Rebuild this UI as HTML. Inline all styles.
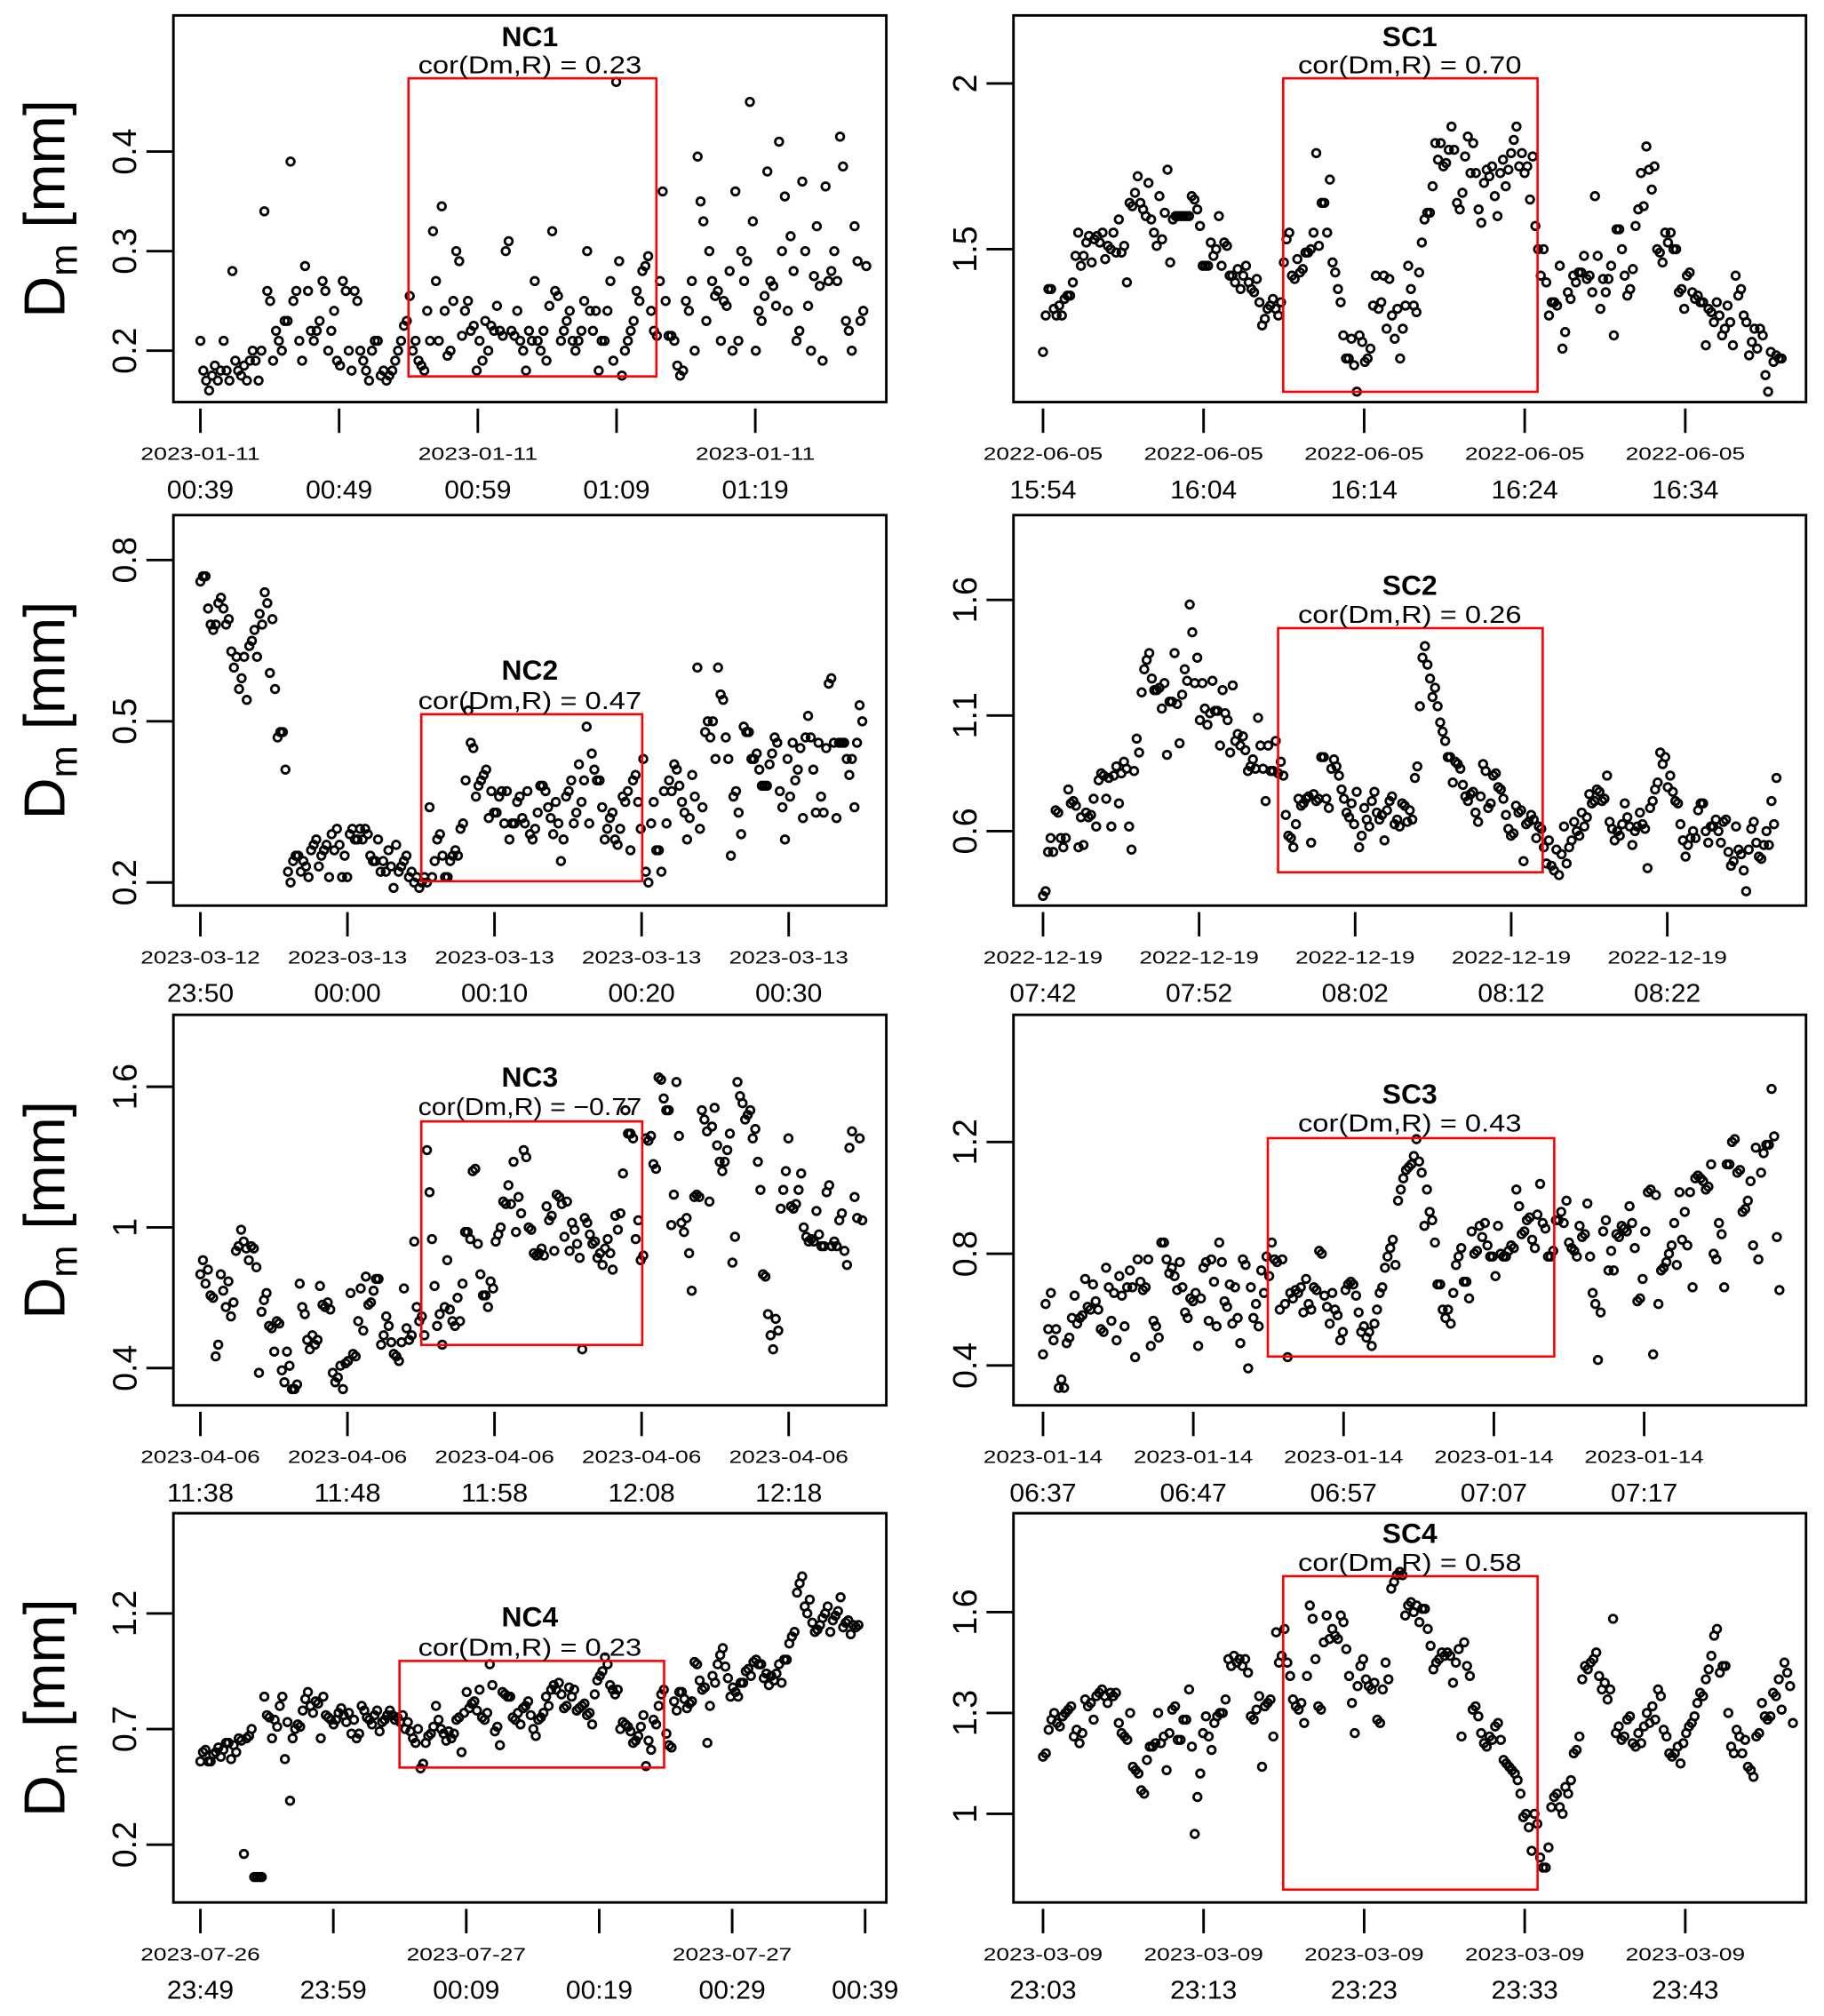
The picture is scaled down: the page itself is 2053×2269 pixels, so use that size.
<!DOCTYPE html>
<html><head><meta charset="utf-8">
<style>
html,body{margin:0;padding:0;background:#fff;}
svg{display:block;font-family:"Liberation Sans",Arial,sans-serif;}
</style></head>
<body>
<svg id="fig" width="2053" height="2269" viewBox="0 0 1420 1569.4" preserveAspectRatio="none" xmlns="http://www.w3.org/2000/svg">
<rect x="0" y="0" width="1420" height="1570" fill="#fff"/>
</svg>
<script>
// ---- data (Dm values in mm) ----
const panelNames = ["NC1","SC1","NC2","SC2","NC3","SC3","NC4","SC4"];
const corValues = ["0.23","0.70","0.47","0.26","\u22120.77","0.43","0.23","0.58"];
const spanMinutes = [48,46,45,47,45,49,49.5,46.7];
const dateLabels = ["2023-01-11","2022-06-05","2023-03-12","2022-12-19","2023-04-06","2023-01-14","2023-07-26","2023-03-09"];
const dateLabels2 = ["2023-01-11","2022-06-05","2023-03-13","2022-12-19","2023-04-06","2023-01-14","2023-07-27","2023-03-09"];
const timeLabelsNC1 = ["00:39","00:49","00:59","01:09","01:19"];
const timeLabelsSC1 = ["15:54","16:04","16:14","16:24","16:34"];
const timeLabelsNC2 = ["23:50","00:00","00:10","00:20","00:30"];
const timeLabelsSC2 = ["07:42","07:52","08:02","08:12","08:22"];
const timeLabelsNC3 = ["11:38","11:48","11:58","12:08","12:18"];
const timeLabelsSC3 = ["06:37","06:47","06:57","07:07","07:17"];
const timeLabelsNC4 = ["23:49","23:59","00:09","00:19","00:29","00:39"];
const timeLabelsSC4 = ["23:03","23:13","23:23","23:33","23:43"];
const yTicksNC1 = [0.2,0.3,0.4];
const yTicksSC1 = [1.5,2];
const yTicksNC2 = [0.2,0.5,0.8];
const yTicksSC2 = [0.6,1.1,1.6];
const yTicksNC3 = [0.4,1,1.6];
const yTicksSC3 = [0.4,0.8,1.2];
const yTicksNC4 = [0.2,0.7,1.2];
const yTicksSC4 = [1,1.3,1.6];

const dmNC1 = [0.21,0.18,0.17,0.16,0.175,0.185,0.17,0.18,0.21,0.18,0.17,0.28,0.19,0.18,0.175,0.185,0.17,0.19,0.2,0.19,0.17,0.2,0.34,0.26,0.25,0.19,0.22,0.21,0.2,0.23,0.23,0.39,0.25,0.26,0.21,0.19,0.285,0.26,0.22,0.21,0.22,0.23,0.27,0.26,0.2,0.22,0.24,0.19,0.185,0.27,0.26,0.2,0.18,0.26,0.25,0.2,0.19,0.18,0.17,0.2,0.21,0.21,0.175,0.18,0.17,0.175,0.18,0.19,0.2,0.21,0.225,0.23,0.255,0.2,0.21,0.19,0.185,0.18,0.24,0.21,0.32,0.27,0.21,0.345,0.24,0.195,0.2,0.25,0.3,0.29,0.215,0.24,0.25,0.22,0.225,0.18,0.21,0.19,0.23,0.2,0.225,0.22,0.245,0.22,0.215,0.3,0.31,0.22,0.215,0.24,0.21,0.2,0.18,0.22,0.21,0.27,0.21,0.2,0.22,0.19,0.245,0.32,0.26,0.255,0.21,0.22,0.23,0.24,0.21,0.2,0.21,0.22,0.25,0.3,0.24,0.22,0.24,0.18,0.21,0.21,0.24,0.27,0.19,0.47,0.29,0.175,0.2,0.21,0.22,0.23,0.26,0.25,0.28,0.285,0.295,0.24,0.22,0.215,0.27,0.36,0.25,0.215,0.215,0.21,0.185,0.175,0.18,0.25,0.24,0.27,0.2,0.395,0.35,0.33,0.23,0.3,0.27,0.255,0.26,0.21,0.25,0.245,0.28,0.2,0.36,0.21,0.3,0.27,0.29,0.45,0.33,0.2,0.24,0.23,0.255,0.38,0.27,0.265,0.245,0.41,0.3,0.355,0.24,0.315,0.28,0.21,0.22,0.37,0.3,0.245,0.2,0.275,0.325,0.265,0.19,0.365,0.27,0.28,0.3,0.27,0.415,0.385,0.23,0.22,0.2,0.325,0.29,0.23,0.24,0.285];
const dmSC1 = [1.19,1.3,1.38,1.38,1.32,1.3,1.33,1.3,1.35,1.36,1.36,1.4,1.48,1.55,1.45,1.48,1.52,1.54,1.46,1.53,1.54,1.52,1.55,1.47,1.51,1.5,1.55,1.49,1.59,1.49,1.51,1.4,1.64,1.63,1.67,1.72,1.64,1.62,1.6,1.7,1.59,1.55,1.51,1.66,1.53,1.61,1.74,1.46,1.59,1.6,1.6,1.6,1.6,1.6,1.6,1.66,1.65,1.62,1.57,1.45,1.45,1.45,1.52,1.48,1.5,1.6,1.45,1.52,1.51,1.42,1.42,1.4,1.44,1.38,1.42,1.45,1.4,1.38,1.37,1.41,1.34,1.27,1.29,1.32,1.33,1.35,1.32,1.3,1.34,1.46,1.53,1.55,1.42,1.41,1.47,1.43,1.44,1.49,1.49,1.5,1.55,1.79,1.51,1.64,1.64,1.55,1.71,1.46,1.43,1.38,1.34,1.24,1.17,1.17,1.23,1.15,1.07,1.24,1.22,1.16,1.17,1.2,1.33,1.42,1.32,1.34,1.42,1.26,1.41,1.3,1.23,1.32,1.17,1.26,1.33,1.45,1.38,1.33,1.31,1.43,1.52,1.59,1.61,1.61,1.69,1.82,1.77,1.82,1.75,1.76,1.8,1.87,1.8,1.64,1.62,1.67,1.78,1.84,1.73,1.82,1.73,1.62,1.58,1.7,1.74,1.72,1.75,1.66,1.6,1.73,1.77,1.69,1.74,1.79,1.83,1.87,1.75,1.79,1.73,1.75,1.65,1.78,1.57,1.5,1.42,1.5,1.4,1.3,1.34,1.34,1.33,1.45,1.2,1.25,1.37,1.35,1.42,1.4,1.43,1.43,1.48,1.41,1.42,1.37,1.66,1.48,1.32,1.41,1.37,1.41,1.45,1.24,1.56,1.56,1.5,1.42,1.36,1.38,1.44,1.57,1.62,1.73,1.63,1.81,1.74,1.68,1.75,1.5,1.49,1.46,1.55,1.52,1.55,1.5,1.5,1.37,1.38,1.32,1.42,1.43,1.37,1.35,1.36,1.34,1.34,1.21,1.32,1.31,1.28,1.34,1.3,1.24,1.26,1.33,1.28,1.21,1.42,1.36,1.38,1.3,1.28,1.18,1.22,1.26,1.2,1.26,1.24,1.12,1.07,1.19,1.16,1.18,1.17,1.17];
const dmNC2 = [0.76,0.77,0.77,0.71,0.68,0.67,0.68,0.72,0.73,0.71,0.68,0.69,0.63,0.6,0.62,0.56,0.58,0.62,0.54,0.64,0.65,0.67,0.62,0.7,0.68,0.74,0.72,0.59,0.69,0.56,0.47,0.48,0.48,0.41,0.22,0.2,0.24,0.25,0.25,0.22,0.24,0.23,0.21,0.26,0.27,0.28,0.23,0.25,0.26,0.27,0.21,0.29,0.26,0.3,0.27,0.21,0.25,0.21,0.29,0.3,0.28,0.28,0.3,0.28,0.3,0.29,0.25,0.24,0.24,0.28,0.22,0.24,0.22,0.26,0.23,0.19,0.27,0.22,0.23,0.24,0.25,0.21,0.22,0.2,0.21,0.19,0.2,0.21,0.2,0.34,0.21,0.24,0.28,0.29,0.25,0.21,0.21,0.24,0.25,0.26,0.25,0.3,0.31,0.39,0.52,0.46,0.45,0.36,0.38,0.39,0.4,0.41,0.32,0.37,0.33,0.33,0.36,0.37,0.31,0.37,0.28,0.31,0.31,0.35,0.36,0.32,0.31,0.37,0.29,0.28,0.3,0.33,0.38,0.38,0.37,0.34,0.32,0.29,0.35,0.31,0.24,0.28,0.36,0.37,0.39,0.31,0.33,0.42,0.35,0.39,0.49,0.31,0.44,0.41,0.39,0.39,0.34,0.28,0.3,0.32,0.33,0.28,0.27,0.3,0.36,0.35,0.37,0.26,0.39,0.4,0.35,0.3,0.43,0.22,0.2,0.31,0.35,0.26,0.26,0.22,0.37,0.31,0.39,0.37,0.42,0.41,0.38,0.35,0.33,0.28,0.32,0.4,0.36,0.6,0.3,0.34,0.48,0.5,0.47,0.5,0.43,0.6,0.55,0.54,0.47,0.43,0.25,0.36,0.37,0.33,0.29,0.49,0.48,0.48,0.43,0.43,0.44,0.41,0.38,0.38,0.38,0.42,0.44,0.47,0.46,0.37,0.34,0.28,0.43,0.36,0.46,0.39,0.41,0.45,0.32,0.47,0.51,0.47,0.41,0.33,0.46,0.36,0.33,0.45,0.57,0.58,0.46,0.32,0.46,0.46,0.46,0.43,0.4,0.43,0.34,0.46,0.53,0.5];
const dmSC2 = [0.32,0.34,0.51,0.57,0.51,0.69,0.68,0.57,0.53,0.57,0.78,0.72,0.73,0.71,0.53,0.66,0.54,0.68,0.66,0.67,0.74,0.62,0.82,0.85,0.84,0.74,0.83,0.62,0.84,0.88,0.72,0.85,0.9,0.87,0.62,0.52,0.86,1.0,0.94,1.2,1.3,1.34,1.37,1.26,1.21,1.21,1.22,1.13,1.24,0.93,1.16,1.16,1.37,1.15,0.98,1.19,1.3,1.25,1.58,1.46,1.24,1.35,1.08,1.24,1.13,1.06,1.11,1.25,1.12,1.12,0.97,1.21,1.11,1.08,0.94,1.23,0.99,1.02,0.97,1.01,0.95,0.86,0.88,0.91,0.87,1.09,0.97,0.87,0.73,0.97,0.86,0.86,0.99,0.85,0.9,0.84,0.67,0.58,0.57,0.53,0.63,0.74,0.71,0.72,0.74,0.75,0.55,0.76,0.73,0.74,0.92,0.92,0.74,0.7,0.87,0.91,0.88,0.84,0.78,0.74,0.68,0.66,0.72,0.63,0.77,0.53,0.58,0.7,0.65,0.62,0.73,0.77,0.68,0.65,0.67,0.56,0.69,0.73,0.75,0.63,0.65,0.62,0.72,0.71,0.64,0.69,0.65,0.83,0.88,1.14,1.35,1.4,1.32,1.26,1.18,1.22,1.14,1.07,1.03,0.99,0.92,0.92,0.81,0.9,0.89,0.87,0.8,0.75,0.73,0.76,0.77,0.68,0.64,0.75,0.89,0.86,0.7,0.72,0.84,0.85,0.79,0.78,0.74,0.67,0.61,0.58,0.59,0.71,0.68,0.69,0.47,0.63,0.64,0.67,0.65,0.57,0.62,0.61,0.53,0.46,0.56,0.45,0.43,0.52,0.41,0.5,0.62,0.46,0.53,0.56,0.64,0.6,0.58,0.68,0.62,0.66,0.76,0.72,0.73,0.78,0.77,0.73,0.74,0.84,0.64,0.61,0.56,0.6,0.58,0.63,0.72,0.66,0.62,0.54,0.6,0.62,0.68,0.63,0.61,0.44,0.7,0.73,0.78,0.81,0.94,0.89,0.92,0.79,0.84,0.77,0.73,0.72,0.63,0.56,0.49,0.54,0.57,0.6,0.57,0.69,0.72,0.72,0.6,0.55,0.62,0.62,0.65,0.6,0.55,0.64,0.65,0.51,0.45,0.47,0.62,0.52,0.5,0.43,0.34,0.52,0.61,0.64,0.55,0.49,0.48,0.54,0.6,0.54,0.73,0.63,0.83];
const dmNC3 = [0.8,0.86,0.76,0.82,0.71,0.7,0.45,0.5,0.8,0.73,0.66,0.77,0.62,0.68,0.9,0.92,0.99,0.94,0.91,0.86,0.92,0.91,0.83,0.38,0.64,0.69,0.72,0.58,0.57,0.47,0.6,0.59,0.39,0.34,0.47,0.41,0.31,0.31,0.33,0.76,0.66,0.63,0.52,0.48,0.54,0.5,0.52,0.75,0.67,0.66,0.68,0.65,0.38,0.34,0.36,0.41,0.31,0.42,0.43,0.72,0.46,0.45,0.6,0.74,0.56,0.79,0.67,0.68,0.73,0.78,0.78,0.5,0.54,0.62,0.58,0.51,0.46,0.45,0.43,0.51,0.74,0.57,0.52,0.54,0.94,0.66,0.6,0.62,0.54,1.33,1.15,0.95,0.75,0.58,0.63,0.5,0.66,0.86,0.65,0.6,0.58,0.7,0.6,0.76,0.98,0.98,0.95,1.24,1.25,0.93,0.8,0.71,0.71,0.66,0.77,0.74,0.94,0.97,1.0,1.11,1.1,1.18,1.1,1.28,0.98,1.13,1.06,1.33,1.3,1.0,0.99,0.89,0.88,0.89,0.91,0.88,1.09,1.03,1.05,0.9,1.14,1.13,1.1,0.96,1.11,0.9,1.02,0.99,0.93,0.87,0.48,1.04,1.02,0.97,0.93,0.94,0.87,0.89,0.84,0.91,0.95,0.89,0.82,1.05,0.99,1.06,1.23,1.5,1.4,1.4,1.38,0.95,1.03,0.86,0.88,1.38,1.37,1.39,1.27,1.25,1.64,1.63,1.55,1.5,1.5,1.01,1.14,1.62,1.39,1.02,0.98,1.04,0.89,0.73,1.13,1.14,1.13,1.5,1.46,1.41,1.11,1.43,1.51,1.35,1.28,1.24,1.28,1.33,1.4,0.85,0.96,1.62,1.56,1.53,1.46,1.48,1.5,1.38,1.42,1.28,1.16,0.8,0.79,0.63,0.54,0.48,0.61,0.56,1.08,1.16,1.24,1.38,1.09,1.08,1.1,1.16,1.23,1.0,0.96,0.94,0.95,0.94,1.07,0.97,0.92,0.92,1.15,1.18,0.92,0.94,0.92,1.03,1.06,0.9,0.84,1.34,1.41,1.13,1.04,1.38,1.03];
const dmSC3 = [0.44,0.62,0.53,0.66,0.49,0.53,0.32,0.35,0.32,0.48,0.5,0.57,0.65,0.55,0.57,0.58,0.71,0.61,0.6,0.69,0.63,0.6,0.53,0.52,0.75,0.68,0.56,0.66,0.49,0.72,0.65,0.54,0.68,0.74,0.68,0.43,0.78,0.7,0.67,0.68,0.78,0.47,0.56,0.54,0.5,0.84,0.84,0.78,0.73,0.75,0.72,0.67,0.77,0.68,0.59,0.57,0.64,0.63,0.66,0.47,0.64,0.75,0.77,0.56,0.78,0.7,0.54,0.84,0.77,0.63,0.61,0.69,0.55,0.68,0.57,0.48,0.78,0.76,0.39,0.68,0.57,0.62,0.54,0.74,0.66,0.79,0.72,0.84,0.78,0.77,0.6,0.78,0.62,0.43,0.66,0.64,0.67,0.66,0.68,0.59,0.71,0.62,0.6,0.68,0.67,0.81,0.8,0.65,0.61,0.55,0.66,0.6,0.58,0.49,0.52,0.67,0.69,0.7,0.69,0.65,0.59,0.52,0.54,0.5,0.52,0.47,0.55,0.6,0.66,0.68,0.75,0.79,0.82,0.85,0.76,0.99,1.03,1.07,1.1,1.11,1.12,1.15,1.21,1.13,1.09,0.9,1.03,0.95,0.92,0.84,0.69,0.69,0.6,0.57,0.6,0.55,0.66,0.76,0.79,0.82,0.7,0.7,0.64,0.88,0.8,0.81,0.9,0.86,0.91,0.83,0.79,0.79,0.72,0.9,0.8,0.79,0.79,0.81,0.83,0.82,1.03,0.97,0.87,0.88,0.92,0.93,0.85,0.82,0.94,1.05,0.91,0.89,0.79,0.79,0.81,0.92,0.92,0.95,0.91,0.99,0.84,0.82,0.81,0.79,0.9,0.86,0.87,0.98,0.79,0.66,0.62,0.42,0.59,0.88,0.92,0.74,0.81,0.74,0.87,0.86,0.9,0.89,0.88,0.97,0.91,0.82,0.63,0.64,0.71,0.88,1.02,1.03,0.44,1.01,0.62,0.74,0.75,0.77,0.8,0.83,0.91,0.76,1.02,0.85,0.95,0.83,1.02,0.68,1.07,1.08,1.07,1.06,1.03,1.04,1.12,0.8,0.78,0.91,0.87,0.68,1.12,1.12,1.2,1.21,1.09,1.1,0.95,0.96,0.99,1.06,0.83,1.18,0.78,1.09,1.16,1.19,1.19,1.39,1.22,0.86,0.67];
const dmNC4 = [0.56,0.6,0.61,0.56,0.56,0.59,0.6,0.62,0.58,0.61,0.64,0.64,0.57,0.63,0.6,0.66,0.65,0.16,0.66,0.67,0.7,0.06,0.06,0.06,0.06,0.84,0.76,0.75,0.66,0.74,0.71,0.8,0.84,0.57,0.73,0.39,0.66,0.7,0.72,0.71,0.78,0.83,0.86,0.8,0.77,0.82,0.81,0.66,0.84,0.76,0.75,0.74,0.72,0.74,0.77,0.79,0.76,0.73,0.77,0.68,0.74,0.66,0.68,0.8,0.78,0.75,0.74,0.72,0.76,0.78,0.69,0.73,0.74,0.76,0.78,0.76,0.74,0.75,0.73,0.76,0.7,0.73,0.69,0.66,0.64,0.7,0.53,0.55,0.64,0.67,0.68,0.71,0.8,0.74,0.7,0.68,0.65,0.69,0.66,0.68,0.74,0.75,0.6,0.77,0.86,0.79,0.81,0.82,0.78,0.87,0.75,0.74,0.77,0.98,0.89,0.69,0.71,0.63,0.86,0.85,0.84,0.84,0.75,0.74,0.77,0.72,0.79,0.8,0.82,0.76,0.7,0.67,0.74,0.75,0.77,0.84,0.8,0.87,0.89,0.87,0.9,0.85,0.79,0.8,0.88,0.84,0.87,0.78,0.79,0.8,0.81,0.76,0.77,0.72,0.85,0.91,0.93,0.95,1.01,0.98,0.89,0.87,0.85,0.87,0.7,0.73,0.72,0.71,0.69,0.64,0.65,0.67,0.71,0.76,0.54,0.65,0.61,0.74,0.72,0.8,0.85,0.87,0.68,0.63,0.62,0.82,0.78,0.86,0.86,0.83,0.79,0.81,0.82,0.99,0.98,0.91,0.87,0.88,0.64,0.8,0.93,0.9,0.98,1.02,1.05,0.97,0.92,0.84,0.88,0.86,0.84,0.9,0.9,0.95,0.96,0.93,0.99,1.0,0.98,0.98,0.92,0.94,0.89,0.93,0.91,0.94,0.98,0.9,1.0,1.0,1.07,1.1,1.12,1.29,1.33,1.36,1.23,1.2,1.26,1.16,1.12,1.13,1.15,1.18,1.2,1.23,1.12,1.17,1.19,1.21,1.27,1.14,1.16,1.17,1.11,1.15,1.14,1.15];
const dmSC4 = [1.17,1.18,1.25,1.28,1.3,1.27,1.26,1.29,1.3,1.31,1.32,1.23,1.25,1.21,1.24,1.34,1.32,1.33,1.28,1.35,1.36,1.37,1.35,1.33,1.36,1.35,1.36,1.27,1.24,1.23,1.22,1.3,1.14,1.13,1.12,1.07,1.06,1.16,1.2,1.2,1.21,1.3,1.21,1.23,1.13,1.24,1.31,1.32,1.22,1.22,1.28,1.28,1.37,1.2,0.94,1.05,1.12,1.24,1.29,1.23,1.19,1.27,1.29,1.3,1.3,1.34,1.46,1.44,1.47,1.45,1.46,1.44,1.46,1.42,1.29,1.28,1.31,1.35,1.14,1.32,1.33,1.34,1.23,1.54,1.45,1.47,1.55,1.45,1.41,1.34,1.32,1.31,1.33,1.27,1.41,1.62,1.58,1.46,1.32,1.31,1.51,1.59,1.52,1.55,1.53,1.52,1.59,1.57,1.49,1.41,1.33,1.24,1.38,1.44,1.46,1.4,1.38,1.37,1.39,1.28,1.27,1.37,1.45,1.4,1.67,1.69,1.71,1.72,1.71,1.59,1.62,1.63,1.6,1.62,1.57,1.61,1.61,1.55,1.5,1.43,1.45,1.46,1.48,1.47,1.48,1.47,1.39,1.45,1.49,1.23,1.51,1.44,1.41,1.31,1.32,1.29,1.24,1.21,1.2,1.23,1.22,1.26,1.27,1.22,1.16,1.15,1.14,1.13,1.12,1.1,1.06,0.99,1.0,0.96,0.89,1.0,0.97,0.87,0.84,0.84,0.9,1.02,1.05,1.06,1.02,1.0,1.08,1.06,1.1,1.18,1.19,1.23,1.4,1.44,1.43,1.45,1.46,1.48,1.41,1.37,1.39,1.34,1.37,1.58,1.24,1.26,1.22,1.23,1.28,1.29,1.21,1.2,1.24,1.21,1.26,1.3,1.27,1.32,1.28,1.37,1.35,1.25,1.23,1.18,1.17,1.18,1.2,1.15,1.21,1.24,1.26,1.27,1.29,1.33,1.36,1.35,1.4,1.43,1.47,1.53,1.55,1.42,1.44,1.44,1.3,1.2,1.18,1.25,1.23,1.18,1.22,1.14,1.13,1.11,1.23,1.24,1.33,1.29,1.28,1.29,1.36,1.35,1.4,1.31,1.45,1.42,1.38,1.27];

const seriesList = [dmNC1,dmSC1,dmNC2,dmSC2,dmNC3,dmSC3,dmNC4,dmSC4];
const timeLabelList = [timeLabelsNC1,timeLabelsSC1,timeLabelsNC2,timeLabelsSC2,timeLabelsNC3,timeLabelsSC3,timeLabelsNC4,timeLabelsSC4];
const yTickList = [yTicksNC1,yTicksSC1,yTicksNC2,yTicksSC2,yTicksNC3,yTicksSC3,yTicksNC4,yTicksSC4];

// ---- layout (pixel geometry in 1420-wide coordinate space) ----
const layout = [
 {box:[135,12,690,313], tx0:156, tx1:264, ya:[0.2,273], yb:[0.4,118], red:[318,61,511,293], titleY:28, corY:50, dateIdx:[0,2,4]},
 {box:[789,12,1406,313], tx0:812, tx1:937, ya:[1.5,194], yb:[2,65], red:[999,61,1197,305], titleY:28, corY:50, dateIdx:[0,1,2,3,4]},
 {box:[135,401,690,705], tx0:156, tx1:270.5, ya:[0.2,687], yb:[0.8,436], red:[328,556,500,686], titleY:521, corY:545, dateIdx:[0,1,2,3,4]},
 {box:[789,401,1406,705], tx0:812, tx1:933.5, ya:[0.6,647], yb:[1.6,467], red:[995,489,1201,679], titleY:455, corY:478, dateIdx:[0,1,2,3,4]},
 {box:[135,790,690,1094], tx0:156, tx1:270.5, ya:[0.4,1065], yb:[1.6,846], red:[328,873,500,1047], titleY:838, corY:861, dateIdx:[0,1,2,3,4]},
 {box:[789,790,1406,1094], tx0:812, tx1:929, ya:[0.4,1063], yb:[1.2,889], red:[987,886,1210,1056], titleY:851, corY:874, dateIdx:[0,1,2,3,4]},
 {box:[135,1178,690,1481], tx0:156, tx1:259.5, ya:[0.2,1436], yb:[1.2,1256], red:[311,1293,517,1376], titleY:1258, corY:1282, dateIdx:[0,2,4]},
 {box:[789,1178,1406,1481], tx0:812, tx1:937, ya:[1,1412], yb:[1.6,1255], red:[999,1227,1197,1471], titleY:1193, corY:1216, dateIdx:[0,1,2,3,4]}
];

const NS = "http://www.w3.org/2000/svg";
const svg = document.getElementById('fig');
function mk(tag, attrs, parent){
  const e = document.createElementNS(NS, tag);
  for (const k in attrs) e.setAttribute(k, attrs[k]);
  (parent||svg).appendChild(e);
  return e;
}

panelNames.forEach((name, p) => {
  const L = layout[p];
  const [bx0,by0,bx1,by1] = L.box;
  const g = mk('g', {});
  
  
  const xScale = m => L.tx0 + m * (L.tx1 - L.tx0) / 10;
  const yScale = v => L.ya[1] + (v - L.ya[0]) * (L.yb[1] - L.ya[1]) / (L.yb[0] - L.ya[0]);

  const data = seriesList[p];
  const n = data.length;
  const pts = mk('g', {fill:'none', stroke:'#000', 'stroke-width':'1.9'}, g);
  
  
  data.forEach((v, i) => {
    const t = spanMinutes[p] * i / (n - 1);
    const c = mk('circle', {cx: xScale(t).toFixed(1), cy: yScale(v).toFixed(1), r: 3.0}, pts);
    
    
  });

  const frame = mk('rect', {x:bx0, y:by0, width:bx1-bx0, height:by1-by0, fill:'none', stroke:'#000', 'stroke-width':'2'}, g);
  
  

  const [rx0,ry0,rx1,ry1] = L.red;
  const rb = mk('rect', {x:rx0, y:ry0, width:rx1-rx0, height:ry1-ry0, fill:'none', stroke:'#ff0000', 'stroke-width':'1.8'}, g);
  
  

  const cx = (bx0 + bx1) / 2;
  const ttl = mk('text', {x:cx, y:L.titleY + 8, 'text-anchor':'middle', 'font-size':'22', 'font-weight':'bold'}, g);
  ttl.textContent = name;
  
  
  const cor = mk('text', {x:cx, y:L.corY + 7, 'text-anchor':'middle', 'font-size':'19', textLength:'174', lengthAdjust:'spacingAndGlyphs'}, g);
  cor.textContent = 'cor(Dm,R) = ' + corValues[p];
  
  

  const tl = timeLabelList[p];
  tl.forEach((lab, k) => {
    const x = xScale(k * 10);
    const tk = mk('line', {x1:x, y1:by1 + 5, x2:x, y2:by1 + 24, stroke:'#000', 'stroke-width':'2'}, g);
    
    
    if (L.dateIdx.indexOf(k) >= 0) {
      const d = mk('text', {x:x, y:by1 + 45, 'text-anchor':'middle', 'font-size':'14', textLength:'93', lengthAdjust:'spacingAndGlyphs'}, g);
      d.textContent = k === 0 ? dateLabels[p] : dateLabels2[p];
      
      
    }
    const tt = mk('text', {x:x, y:by1 + 75, 'text-anchor':'middle', 'font-size':'20', textLength:'52', lengthAdjust:'spacingAndGlyphs'}, g);
    tt.textContent = lab;
    
    
  });

  yTickList[p].forEach(v => {
    const y = yScale(v);
    const tk = mk('line', {x1:bx0 - 21, y1:y, x2:bx0, y2:y, stroke:'#000', 'stroke-width':'2'}, g);
    
    
    const lx = bx0 - 29;
    const lb = mk('text', {x:lx, y:y, 'text-anchor':'middle', 'font-size':'26', transform:'rotate(-90 ' + lx + ' ' + y + ')'}, g);
    lb.textContent = String(v);
    
    
  });

  if (p % 2 === 0) {
    const my = (by0 + by1) / 2;
    const yt = mk('text', {x:50, y:my, 'text-anchor':'middle', 'font-size':'45', transform:'rotate(-90 50 ' + my + ')'}, g);
    
    
    const t1 = mk('tspan', {}, yt); t1.textContent = 'D';
    const t2 = mk('tspan', {'font-size':'30', dy:'10'}, yt); t2.textContent = 'm';
    const t3 = mk('tspan', {dy:'-10'}, yt); t3.textContent = ' [mm]';
  }
});
</script>
</body></html>
